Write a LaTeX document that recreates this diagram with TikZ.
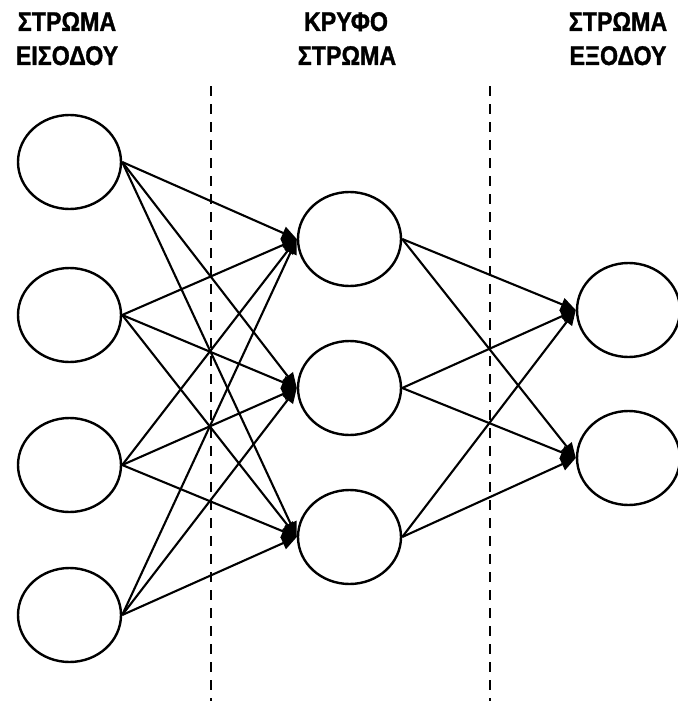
\documentclass[tikz,border=0pt]{standalone}
\usepackage{fontspec}
\setmainfont{Liberation Sans}
\newfontfamily\captionfont[FakeBold=1.2,FakeStretch=0.86]{Liberation Sans Bold}
\usetikzlibrary{arrows.meta,shapes.geometric}
\begin{document}
\begin{tikzpicture}[x=1pt,y=-1pt,
  neuron/.style={ellipse,draw,line width=2.4pt,minimum width=103pt,minimum height=94pt,inner sep=0pt},
  link/.style={line width=2.1pt,-{Triangle[length=15pt,width=13pt]}},
  divider/.style={line width=2.3pt,dash pattern=on 10pt off 8pt},
  head/.style={font=\fontsize{27}{30}\selectfont\captionfont,anchor=base,inner sep=0pt}]
\useasboundingbox (0,0) rectangle (677,701);

% layer captions
\node[head] (t1a) at (67,31) {ΣΤΡΩΜΑ};
\node[head] (t1b) at (67,65) {ΕΙΣΟΔΟΥ};
\node[head] (t2a) at (346,31) {ΚΡΥΦΟ};
\node[head] (t2b) at (347,65) {ΣΤΡΩΜΑ};
\node[head] (t3a) at (618,31) {ΣΤΡΩΜΑ};
\node[head] (t3b) at (618,65) {ΕΞΟΔΟΥ};

% layer separators
\coordinate (d1t) at (211,86);
\coordinate (d1b) at (211,701);
\coordinate (d2t) at (490,86);
\coordinate (d2b) at (490,701);
\draw[divider] (d1t) -- (d1b);
\draw[divider] (d2t) -- (d2b);

% neurons
\node[neuron] (i1) at (69.5,162) {};
\node[neuron] (i2) at (69.5,315) {};
\node[neuron] (i3) at (69.5,465) {};
\node[neuron] (i4) at (69.5,615) {};
\node[neuron] (h1) at (349.5,239) {};
\node[neuron] (h2) at (349.5,388) {};
\node[neuron] (h3) at (349.5,537) {};
\node[neuron] (o1) at (628.5,310) {};
\node[neuron] (o2) at (628.5,458) {};

% input -> hidden
\foreach \a in {i1,i2,i3,i4}
  \foreach \b in {h1,h2,h3}
    \draw[link] (\a.east) -- (\b.west);

% hidden -> output
\foreach \a in {h1,h2,h3}
  \foreach \b in {o1,o2}
    \draw[link] (\a.east) -- (\b.west);
\end{tikzpicture}
\end{document}
